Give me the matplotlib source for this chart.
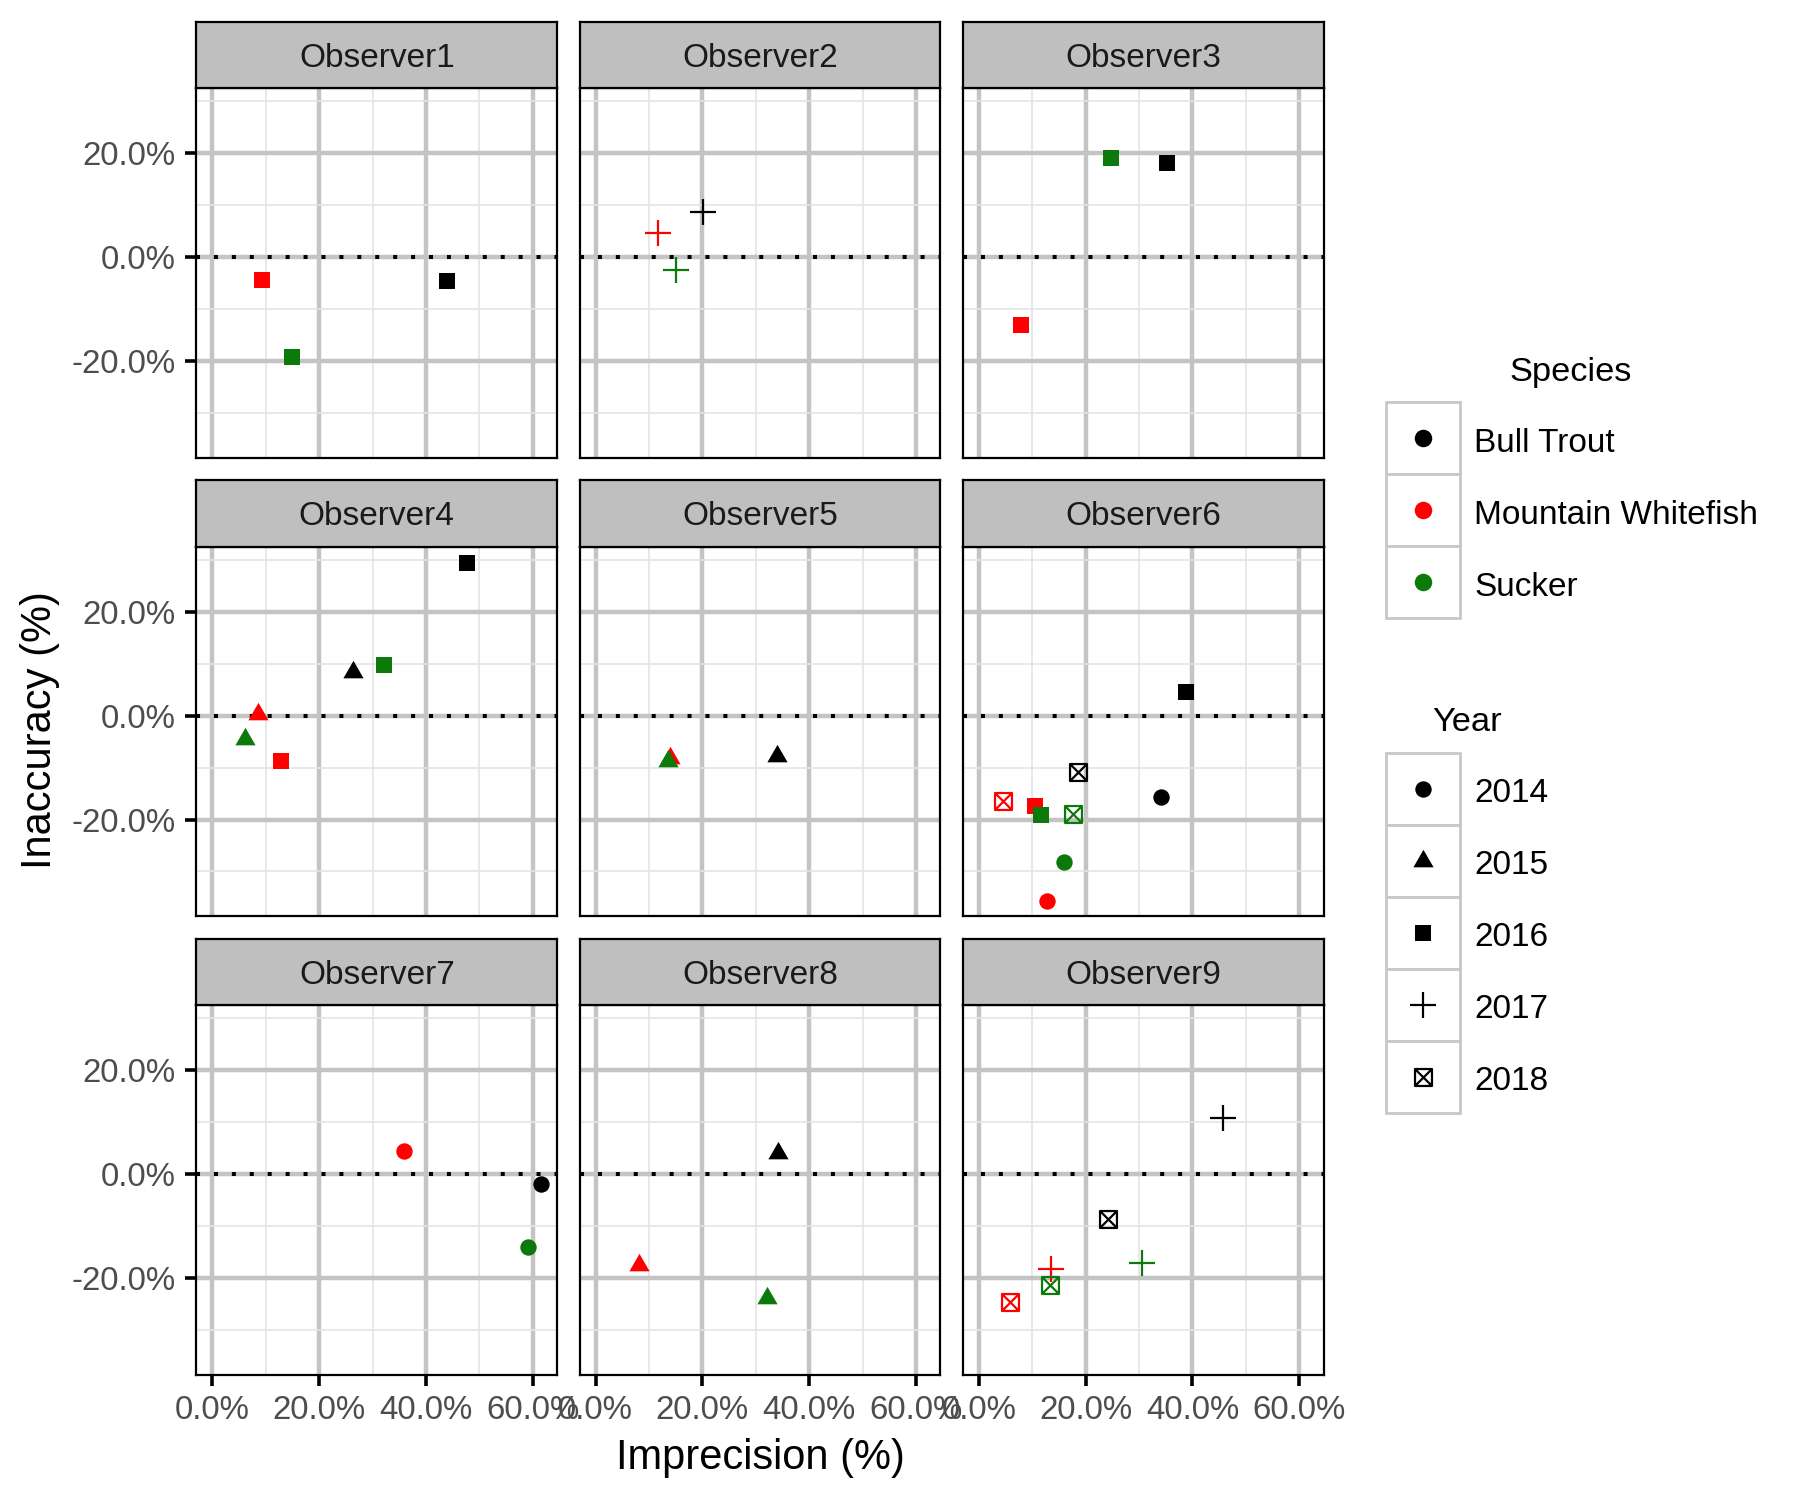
import matplotlib
matplotlib.use("Agg")
import matplotlib.pyplot as plt
from matplotlib.path import Path
from matplotlib.patches import Rectangle
from matplotlib.ticker import FuncFormatter, FixedLocator

plt.rcParams['font.family'] = ['Liberation Sans', 'DejaVu Sans']

# ---------------- data ----------------
observers = ["Observer1", "Observer2", "Observer3", "Observer4", "Observer5",
             "Observer6", "Observer7", "Observer8", "Observer9"]
species_levels = ["Bull Trout", "Mountain Whitefish", "Sucker"]
year_levels = ["2014", "2015", "2016", "2017", "2018"]

obs_col = ["Observer1", "Observer1", "Observer1",
           "Observer2", "Observer2", "Observer2",
           "Observer3", "Observer3", "Observer3",
           "Observer4", "Observer4", "Observer4", "Observer4", "Observer4", "Observer4",
           "Observer5", "Observer5", "Observer5",
           "Observer6", "Observer6", "Observer6", "Observer6", "Observer6",
           "Observer6", "Observer6", "Observer6", "Observer6",
           "Observer7", "Observer7", "Observer7",
           "Observer8", "Observer8", "Observer8",
           "Observer9", "Observer9", "Observer9", "Observer9", "Observer9", "Observer9"]
species_col = ["Mountain Whitefish", "Bull Trout", "Sucker",
               "Bull Trout", "Mountain Whitefish", "Sucker",
               "Sucker", "Bull Trout", "Mountain Whitefish",
               "Bull Trout", "Bull Trout", "Sucker", "Mountain Whitefish", "Sucker", "Mountain Whitefish",
               "Mountain Whitefish", "Sucker", "Bull Trout",
               "Bull Trout", "Bull Trout", "Bull Trout", "Mountain Whitefish", "Mountain Whitefish",
               "Sucker", "Sucker", "Sucker", "Mountain Whitefish",
               "Mountain Whitefish", "Bull Trout", "Sucker",
               "Bull Trout", "Mountain Whitefish", "Sucker",
               "Bull Trout", "Bull Trout", "Sucker", "Mountain Whitefish", "Sucker", "Mountain Whitefish"]
year_col = ["2016", "2016", "2016",
            "2017", "2017", "2017",
            "2016", "2016", "2016",
            "2016", "2015", "2016", "2015", "2015", "2016",
            "2015", "2015", "2015",
            "2016", "2018", "2014", "2018", "2016",
            "2016", "2018", "2014", "2014",
            "2014", "2014", "2014",
            "2015", "2015", "2015",
            "2017", "2018", "2017", "2017", "2018", "2018"]
imprecision = [9.3, 43.9, 15.0,
               20.1, 11.7, 15.1,
               24.8, 35.2, 7.9,
               47.7, 26.3, 32.1, 8.5, 6.2, 12.8,
               13.9, 13.5, 33.9,
               38.8, 18.5, 34.2, 4.6, 10.5,
               11.6, 17.7, 15.9, 12.8,
               35.8, 61.6, 59.1,
               34.1, 8.1, 32.2,
               45.8, 24.2, 30.6, 13.6, 13.3, 5.8]
inaccuracy = [-4.4, -4.6, -19.2,
              8.7, 4.6, -2.5,
              19.2, 18.1, -13.1,
              29.5, 8.4, 9.7, 0.4, -4.4, -8.8,
              -8.2, -8.8, -7.7,
              4.5, -10.9, -15.6, -16.5, -17.4,
              -19.2, -18.9, -28.2, -35.6,
              4.4, -1.9, -14.1,
              4.1, -17.4, -23.9,
              10.8, -8.7, -17.1, -18.2, -21.4, -24.7]

x_ticks = [0, 20, 40, 60]
y_ticks = [-20, 0, 20]

# ---------------- styles ----------------
species_colors = {"Bull Trout": "#000000", "Mountain Whitefish": "#FF0000", "Sucker": "#0B7A0B"}

tri_path = Path([(0, 1), (0.866, -0.5), (-0.866, -0.5), (0, 1)],
                [Path.MOVETO, Path.LINETO, Path.LINETO, Path.CLOSEPOLY])
sqx_path = Path([(-1, -1), (1, -1), (1, 1), (-1, 1), (-1, -1),
                 (-1, -1), (1, 1), (-1, 1), (1, -1)],
                [Path.MOVETO, Path.LINETO, Path.LINETO, Path.LINETO, Path.CLOSEPOLY,
                 Path.MOVETO, Path.LINETO, Path.MOVETO, Path.LINETO])

year_style = {
    "2014": dict(marker="o", ms=5.9, filled=True, mew=0.0),
    "2015": dict(marker=tri_path, ms=8.4, filled=True, mew=0.0),
    "2016": dict(marker="s", ms=5.8, filled=True, mew=0.0),
    "2017": dict(marker="+", ms=9.2, filled=False, mew=0.8),
    "2018": dict(marker=sqx_path, ms=6.1, filled=False, mew=0.8),
}


def draw_point(ax, x, y, color, year, **kw):
    st = year_style[year]
    face = color if st["filled"] else "none"
    ax.plot([x], [y], linestyle="none", marker=st["marker"], ms=st["ms"],
            mfc=face, mec=color, mew=st["mew"], **kw)


# ---------------- layout (pixels) ----------------
W, H = 1800, 1500
DPI = 200
fig = plt.figure(figsize=(W / DPI, H / DPI), dpi=DPI)

col_left = [196.3, 579.5, 962.8]
panel_w = 361.0
row_top = [21.7, 480.2, 938.7]
strip_h = 66.3
plot_h = 369.6

XLIM = (-3.0, 64.6)
YLIM = (-38.6, 32.6)

grid_major = "#C4C4C4"
grid_minor = "#E4E4E4"
pct_fmt = FuncFormatter(lambda v, p: f"{v:.1f}%")
TICK_FS = 11.9

for i, obs in enumerate(observers):
    r, c = divmod(i, 3)
    x0 = col_left[c]
    st_top = row_top[r]
    p_top = st_top + strip_h
    p_bot = p_top + plot_h
    ax = fig.add_axes([x0 / W, 1 - p_bot / H, panel_w / W, plot_h / H])
    ax.set_xlim(*XLIM)
    ax.set_ylim(*YLIM)
    ax.xaxis.set_major_locator(FixedLocator(x_ticks))
    ax.yaxis.set_major_locator(FixedLocator(y_ticks))
    ax.xaxis.set_minor_locator(FixedLocator([10, 30, 50]))
    ax.yaxis.set_minor_locator(FixedLocator([-30, -10, 10, 30]))
    ax.grid(which="major", color=grid_major, linewidth=1.6, zorder=0)
    ax.grid(which="minor", color=grid_minor, linewidth=0.6, zorder=0)
    ax.set_axisbelow(True)
    ax.axhline(0, color="black", linewidth=1.45, linestyle=(0, (1.0, 3.45)),
               dash_capstyle="butt", zorder=1.5)
    for sp in ax.spines.values():
        sp.set_color("black")
        sp.set_linewidth(0.8)
    ax.tick_params(which="minor", length=0)
    ax.tick_params(which="major", length=4.0, width=1.3, color="black",
                   labelsize=TICK_FS, labelcolor="#4D4D4D", pad=3.4)
    ax.xaxis.set_major_formatter(pct_fmt)
    ax.yaxis.set_major_formatter(pct_fmt)
    if c != 0:
        ax.tick_params(axis="y", which="major", length=0, labelleft=False)
    if r != 2:
        ax.tick_params(axis="x", which="major", length=0, labelbottom=False)

    for ob, sp_, yr, xv, yv in zip(obs_col, species_col, year_col, imprecision, inaccuracy):
        if ob == obs:
            draw_point(ax, xv, yv, species_colors[sp_], yr, zorder=3, clip_on=False)

    # strip
    sax = fig.add_axes([x0 / W, 1 - (st_top + strip_h) / H, panel_w / W, strip_h / H])
    sax.set_facecolor("#BFBFBF")
    sax.set_xticks([])
    sax.set_yticks([])
    for sp in sax.spines.values():
        sp.set_color("black")
        sp.set_linewidth(0.8)
    sax.text(0.5, 0.45, obs, ha="center", va="center", fontsize=12.0,
             color="#1A1A1A", transform=sax.transAxes)

# ---------------- overlay for titles & legends ----------------
ov = fig.add_axes([0, 0, 1, 1], facecolor="none")
ov.set_xlim(0, W)
ov.set_ylim(H, 0)
ov.axis("off")

ov.text(760, 1458, "Imprecision (%)", ha="center", va="center", fontsize=15.0, color="black")
ov.text(40, 730, "Inaccuracy (%)", ha="center", va="center", rotation=90, fontsize=15.0,
        color="black")

key_x0, key_w, key_h = 1386.0, 73.5, 72.0
key_border = "#C8C8C8"
LEG_FS = 12.0
LEG_TITLE_FS = 12.4
dy = 5.0

# Species legend
ov.text(1571, 372.5, "Species", ha="center", va="center", fontsize=LEG_TITLE_FS, color="black")
sp_top = 402.0
for k, sp_ in enumerate(species_levels):
    yt = sp_top + k * key_h
    ov.add_patch(Rectangle((key_x0, yt), key_w, key_h, facecolor="white",
                           edgecolor=key_border, linewidth=1.0, zorder=2))
    ov.plot([key_x0 + key_w / 2], [yt + key_h / 2], linestyle="none", marker="o",
            ms=6.3, mfc=species_colors[sp_], mec=species_colors[sp_], mew=0, zorder=3)
    ov.text(1474, yt + key_h / 2 + dy, sp_, ha="left", va="center", fontsize=LEG_FS,
            color="black")

# Year legend
ov.text(1467, 722.5, "Year", ha="center", va="center", fontsize=LEG_TITLE_FS, color="black")
yr_top = 752.5
for k, yr in enumerate(year_levels):
    yt = yr_top + k * key_h
    ov.add_patch(Rectangle((key_x0, yt), key_w, key_h, facecolor="white",
                           edgecolor=key_border, linewidth=1.0, zorder=2))
    draw_point(ov, key_x0 + key_w / 2, yt + key_h / 2, "black", yr, zorder=3)
    ov.text(1474, yt + key_h / 2 + dy, yr, ha="left", va="center", fontsize=LEG_FS,
            color="black")

fig.savefig("out.png", dpi=DPI, facecolor="white")
